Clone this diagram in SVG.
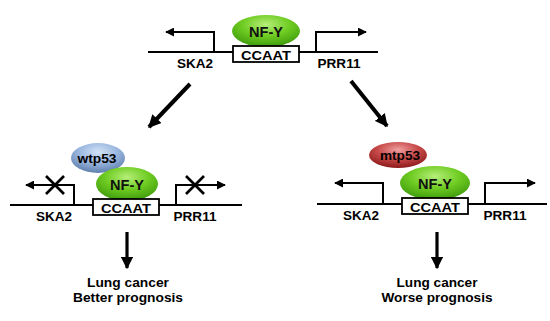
<svg xmlns="http://www.w3.org/2000/svg" width="550" height="321" viewBox="0 0 550 321">
<defs>
<style>
.dna{stroke:#000;stroke-width:2.2;fill:none}
.prom{stroke:#000;stroke-width:2;fill:none}
.box{fill:#fff;stroke:#000;stroke-width:1.8}
.t{font-family:"Liberation Sans",Arial,sans-serif;font-weight:bold;font-size:13.5px;fill:#000;text-anchor:middle}
.tb{font-family:"Liberation Sans",Arial,sans-serif;font-weight:bold;font-size:14px;fill:#111;text-anchor:middle}
.x{stroke:#000;stroke-width:2.6}
.big{stroke:#000;stroke-width:4;fill:none}
.down{stroke:#000;stroke-width:3.2;fill:none}
</style>
<radialGradient id="gG" cx="0.5" cy="0.3" r="0.7">
<stop offset="0" stop-color="#b6ee7a"/>
<stop offset="0.5" stop-color="#6fcc22"/>
<stop offset="1" stop-color="#3d9a0c"/>
</radialGradient>
<radialGradient id="gB" cx="0.5" cy="0.3" r="0.7">
<stop offset="0" stop-color="#d2e2f6"/>
<stop offset="0.5" stop-color="#9cb8e0"/>
<stop offset="1" stop-color="#5f7fae"/>
</radialGradient>
<radialGradient id="gR" cx="0.5" cy="0.3" r="0.7">
<stop offset="0" stop-color="#f0a0a0"/>
<stop offset="0.5" stop-color="#c84a4a"/>
<stop offset="1" stop-color="#8c1a1a"/>
</radialGradient>
<marker id="ah" viewBox="0 0 10 10" refX="9" refY="5" markerWidth="4.5" markerHeight="4.5" orient="auto" markerUnits="strokeWidth">
<path d="M0,0 L10,5 L0,10 z" fill="#000"/>
</marker>
<marker id="ahD" viewBox="0 0 10 10" refX="9" refY="5" markerWidth="3.8" markerHeight="3.8" orient="auto" markerUnits="strokeWidth">
<path d="M0,0 L10,5 L0,10 z" fill="#000"/>
</marker>
<marker id="ahB" viewBox="0 0 10 10" refX="9" refY="5" markerWidth="3.2" markerHeight="3.2" orient="auto" markerUnits="strokeWidth">
<path d="M0,0 L10,5 L0,10 z" fill="#000"/>
</marker>
</defs>
<rect width="550" height="321" fill="#fff"/>

<!-- Top panel -->
<g id="top-dna">
<line class="dna" x1="148" y1="52" x2="378" y2="52"/>
</g>
<g id="top-ska2">
<path class="prom" d="M214,52 V32 H166" marker-end="url(#ah)"/>
<text class="t" x="195" y="68" textLength="36" lengthAdjust="spacingAndGlyphs">SKA2</text>
</g>
<g id="top-prr11">
<path class="prom" d="M316,52 V32 H366" marker-end="url(#ah)"/>
<text class="t" x="339" y="68" textLength="43" lengthAdjust="spacingAndGlyphs">PRR11</text>
</g>
<g id="top-nfy">
<ellipse cx="266" cy="31" rx="34" ry="16" fill="url(#gG)"/>
<text class="tb" x="266" y="37" textLength="34" lengthAdjust="spacingAndGlyphs">NF-Y</text>
</g>
<g id="top-ccaat">
<rect class="box" x="233" y="46" width="66" height="16"/>
<text class="t" x="266" y="60" textLength="50" lengthAdjust="spacingAndGlyphs">CCAAT</text>
</g>

<!-- Left panel -->
<g id="left-dna">
<line class="dna" x1="10" y1="205" x2="242" y2="205"/>
</g>
<g id="left-ska2">
<path class="prom" d="M74,205 V185 H26" marker-end="url(#ah)"/>
<line class="x" x1="46" y1="176" x2="64" y2="194"/>
<line class="x" x1="64" y1="176" x2="46" y2="194"/>
<text class="t" x="54" y="221" textLength="36" lengthAdjust="spacingAndGlyphs">SKA2</text>
</g>
<g id="left-prr11">
<path class="prom" d="M176,205 V185 H225" marker-end="url(#ah)"/>
<line class="x" x1="186" y1="176" x2="204" y2="194"/>
<line class="x" x1="204" y1="176" x2="186" y2="194"/>
<text class="t" x="195" y="221" textLength="43" lengthAdjust="spacingAndGlyphs">PRR11</text>
</g>
<g id="left-wtp53">
<ellipse cx="98" cy="158" rx="27" ry="15" fill="url(#gB)"/>
<text class="t" x="97" y="163" textLength="39" lengthAdjust="spacingAndGlyphs">wtp53</text>
</g>
<g id="left-nfy">
<ellipse cx="127" cy="184" rx="31" ry="17" fill="url(#gG)"/>
<text class="tb" x="127" y="190" textLength="34" lengthAdjust="spacingAndGlyphs">NF-Y</text>
</g>
<g id="left-ccaat">
<rect class="box" x="93" y="199" width="66" height="16"/>
<text class="t" x="126" y="213" textLength="50" lengthAdjust="spacingAndGlyphs">CCAAT</text>
</g>
<g id="left-outcome">
<text class="t" x="128" y="287" textLength="82" lengthAdjust="spacingAndGlyphs">Lung cancer</text>
<text class="t" x="128" y="302" textLength="110" lengthAdjust="spacingAndGlyphs">Better prognosis</text>
</g>

<!-- Right panel -->
<g id="right-dna">
<line class="dna" x1="317" y1="204" x2="547" y2="204"/>
</g>
<g id="right-ska2">
<path class="prom" d="M383,204 V183 H335" marker-end="url(#ah)"/>
<text class="t" x="361" y="220" textLength="36" lengthAdjust="spacingAndGlyphs">SKA2</text>
</g>
<g id="right-prr11">
<path class="prom" d="M485,204 V183 H535" marker-end="url(#ah)"/>
<text class="t" x="505" y="220" textLength="43" lengthAdjust="spacingAndGlyphs">PRR11</text>
</g>
<g id="right-mtp53">
<ellipse cx="398" cy="155" rx="29" ry="13" fill="url(#gR)"/>
<text class="t" x="400" y="160" textLength="40" lengthAdjust="spacingAndGlyphs">mtp53</text>
</g>
<g id="right-nfy">
<ellipse cx="435" cy="183" rx="35" ry="17" fill="url(#gG)"/>
<text class="tb" x="435" y="189" textLength="34" lengthAdjust="spacingAndGlyphs">NF-Y</text>
</g>
<g id="right-ccaat">
<rect class="box" x="402" y="198" width="66" height="16"/>
<text class="t" x="435" y="212" textLength="50" lengthAdjust="spacingAndGlyphs">CCAAT</text>
</g>
<g id="right-outcome">
<text class="t" x="437" y="287" textLength="81" lengthAdjust="spacingAndGlyphs">Lung cancer</text>
<text class="t" x="437" y="302" textLength="111" lengthAdjust="spacingAndGlyphs">Worse prognosis</text>
</g>

<!-- Connectors -->
<g id="connectors">
<line class="big" x1="190" y1="84" x2="149" y2="127" marker-end="url(#ahB)"/>
<line class="big" x1="351" y1="81" x2="387" y2="126" marker-end="url(#ahB)"/>
<line class="down" x1="127" y1="232" x2="127" y2="268" marker-end="url(#ahD)"/>
<line class="down" x1="437" y1="232" x2="437" y2="268" marker-end="url(#ahD)"/>
</g>
</svg>
